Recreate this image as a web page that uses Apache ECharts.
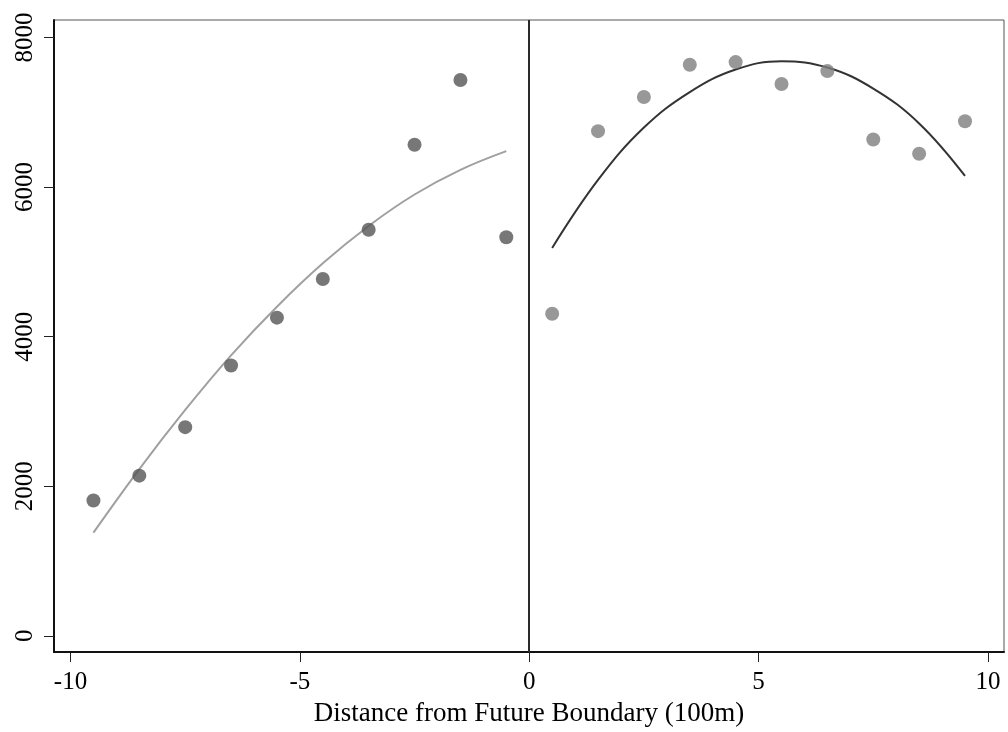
<!DOCTYPE html>
<html>
<head>
<meta charset="utf-8">
<script src="https://cdn.jsdelivr.net/npm/echarts@6/dist/echarts.min.js"></script>
<style>html,body{margin:0;padding:0;background:#fff}#c{width:1008px;height:732px}</style>
</head>
<body>
<div id="c"></div>
<script>
// Data
const leftX = [-9.5, -8.5, -7.5, -6.5, -5.5, -4.5, -3.5, -2.5, -1.5, -0.5];
const leftY = [1810, 2142, 2790, 3615, 4254, 4770, 5429, 6565, 7430, 5328];
const leftFitY = [1380, 2230, 3020, 3750, 4400, 4980, 5480, 5900, 6230, 6480];
const rightX = [0.5, 1.5, 2.5, 3.5, 4.5, 5.5, 6.5, 7.5, 8.5, 9.5];
const rightY = [4307, 6747, 7204, 7634, 7670, 7377, 7550, 6636, 6446, 6880];
const rightFitY = [5186, 6095, 6795, 7270, 7572, 7682, 7598, 7316, 6850, 6148];
const xTicks = [-10, -5, 0, 5, 10];
const yTicks = [0, 2000, 4000, 6000, 8000];
const xTitle = 'Distance from Future Boundary (100m)';

const zip = (xs, ys) => xs.map((x, i) => [x, ys[i]]);
const font = "'Liberation Serif', 'Times New Roman', serif";

const chart = echarts.init(document.getElementById('c'), null, {renderer: 'canvas'});
chart.setOption({
  animation: false,
  backgroundColor: '#fff',
  grid: {left: 54, top: 20, right: 4, bottom: 77, show: true, borderColor: '#555', borderWidth: 1},
  xAxis: {
    type: 'value', min: -10.36, max: 10.35,
    name: xTitle, nameLocation: 'middle', nameGap: 44,
    nameTextStyle: {fontFamily: font, fontSize: 27, color: '#000'},
    axisLine: {show: true, onZero: false, lineStyle: {color: '#111', width: 2}},
    axisTick: {show: true, length: 10, customValues: xTicks, lineStyle: {color: '#222', width: 1}},
    axisLabel: {show: true, margin: 18, customValues: xTicks, fontFamily: font, fontSize: 25, color: '#000'},
    splitLine: {show: false}
  },
  yAxis: {
    type: 'value', min: -217, max: 8233,
    axisLine: {show: true, onZero: false, lineStyle: {color: '#111', width: 2}},
    axisTick: {show: true, length: 10, customValues: yTicks, lineStyle: {color: '#222', width: 1}},
    axisLabel: {show: true, margin: 16, rotate: 90, customValues: yTicks, formatter: v => String(v),
      fontFamily: font, fontSize: 25, color: '#000'},
    splitLine: {show: false}
  },
  series: [
    {
      type: 'line', data: zip(leftX, leftFitY), smooth: 0.4, showSymbol: false,
      lineStyle: {color: '#a0a0a0', width: 2}, z: 2,
      markLine: {
        silent: true, symbol: ['none', 'none'], label: {show: false},
        lineStyle: {color: '#2a2a2a', width: 2, type: 'solid'},
        data: [{xAxis: 0}]
      }
    },
    {
      type: 'line', data: zip(rightX, rightFitY), smooth: 0.4, showSymbol: false,
      lineStyle: {color: '#333', width: 2}, z: 2
    },
    {
      type: 'scatter', data: zip(leftX, leftY), symbol: 'circle', symbolSize: 14,
      itemStyle: {color: '#555'}, z: 3
    },
    {
      type: 'scatter', data: zip(rightX, rightY), symbol: 'circle', symbolSize: 14,
      itemStyle: {color: '#7e7e7e'}, z: 3
    }
  ]
});
</script>
</body>
</html>
